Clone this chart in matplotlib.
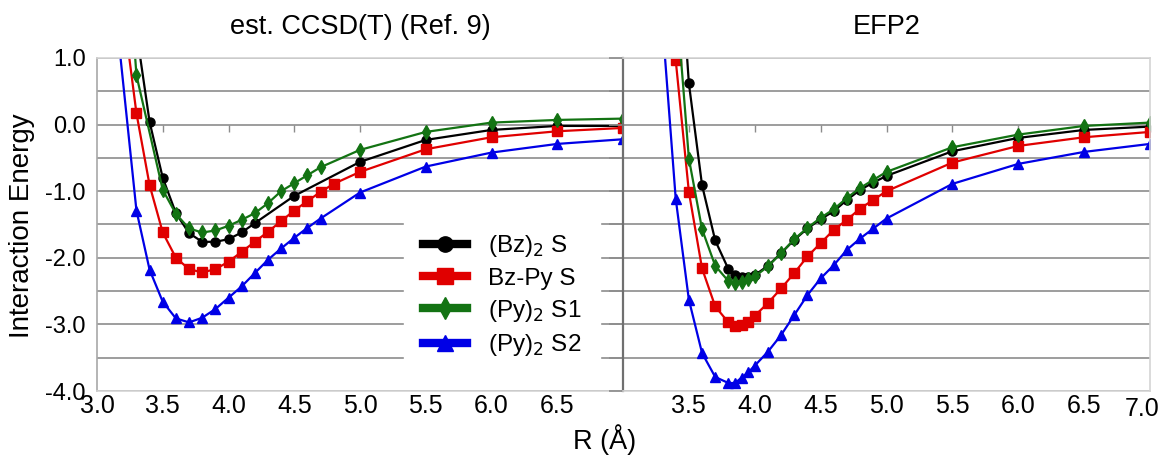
import matplotlib
matplotlib.use("Agg")
import matplotlib.pyplot as plt
from matplotlib.lines import Line2D
import numpy as np

plt.rcParams['font.family'] = ['Liberation Sans', 'DejaVu Sans']

# ---- est. CCSD(T) panel (values above 1.0 are off-scale, only set the line slope)
ccsd_bz2_x = [3.3, 3.4, 3.5, 3.6, 3.7, 3.8, 3.9, 4.0, 4.1, 4.2, 4.5, 5.0, 5.5, 6.0, 6.5, 7.0]
ccsd_bz2_y = [1.4, 0.04, -0.80, -1.33, -1.63, -1.76, -1.76, -1.72, -1.62, -1.48, -1.07, -0.56, -0.23, -0.08, -0.02, -0.02]

ccsd_bzpy_x = [3.2, 3.3, 3.4, 3.5, 3.6, 3.7, 3.8, 3.9, 4.0, 4.1, 4.2, 4.3, 4.4, 4.5, 4.6, 4.7, 4.8, 5.0, 5.5, 6.0, 6.5, 7.0]
ccsd_bzpy_y = [1.7, 0.17, -0.91, -1.62, -2.00, -2.17, -2.22, -2.17, -2.06, -1.91, -1.76, -1.61, -1.45, -1.29, -1.15, -1.01, -0.89, -0.71, -0.37, -0.19, -0.10, -0.05]

ccsd_py2s1_x = [3.2, 3.3, 3.5, 3.6, 3.7, 3.8, 3.9, 4.0, 4.1, 4.2, 4.3, 4.4, 4.5, 4.6, 4.7, 5.0, 5.5, 6.0, 6.5, 7.0]
ccsd_py2s1_y = [3.5, 0.74, -0.98, -1.34, -1.56, -1.62, -1.59, -1.52, -1.43, -1.33, -1.18, -1.00, -0.88, -0.76, -0.64, -0.38, -0.11, 0.03, 0.07, 0.09]

ccsd_py2s2_x = [3.1, 3.3, 3.4, 3.5, 3.6, 3.7, 3.8, 3.9, 4.0, 4.1, 4.2, 4.3, 4.4, 4.5, 4.6, 4.7, 5.0, 5.5, 6.0, 6.5, 7.0]
ccsd_py2s2_y = [2.5, -1.29, -2.18, -2.66, -2.91, -2.97, -2.90, -2.77, -2.60, -2.43, -2.23, -2.03, -1.86, -1.70, -1.55, -1.41, -1.02, -0.63, -0.42, -0.29, -0.22]

# ---- EFP2 panel
efp_x = [3.4, 3.5, 3.6, 3.7, 3.8, 3.85, 3.9, 3.95, 4.0, 4.1, 4.2, 4.3, 4.4, 4.5, 4.6, 4.7, 4.8, 4.9, 5.0, 5.5, 6.0, 6.5, 7.0]
efp_x_s2 = [3.3] + efp_x
efp_x_bzpy = [3.3] + efp_x
efp_bz2_y = [3.5, 0.62, -0.91, -1.74, -2.17, -2.26, -2.29, -2.29, -2.26, -2.12, -1.93, -1.73, -1.56, -1.42, -1.30, -1.13, -0.98, -0.87, -0.77, -0.40, -0.20, -0.08, -0.03]
efp_bzpy_y = [3.0, 0.97, -1.01, -2.16, -2.73, -2.97, -3.02, -3.01, -2.96, -2.87, -2.68, -2.46, -2.23, -1.98, -1.78, -1.58, -1.43, -1.26, -1.13, -1.00, -0.57, -0.32, -0.19, -0.11]
efp_py2s1_y = [2.0, -0.51, -1.57, -2.12, -2.35, -2.38, -2.36, -2.32, -2.28, -2.13, -1.93, -1.72, -1.55, -1.40, -1.27, -1.10, -0.95, -0.83, -0.71, -0.34, -0.15, -0.02, 0.03]
efp_py2s2_y = [1.5, -1.11, -2.63, -3.43, -3.79, -3.88, -3.88, -3.80, -3.72, -3.62, -3.41, -3.16, -2.86, -2.56, -2.31, -2.11, -1.88, -1.71, -1.56, -1.41, -0.89, -0.59, -0.41, -0.29]

labels = ['(Bz)$_2$ S', 'Bz-Py S', '(Py)$_2$ S1', '(Py)$_2$ S2']
colors = ['#000000', '#e00000', '#137313', '#0000e6']
markers = ['o', 's', 'd', '^']
msizes = [6.5, 7, 7, 7]

xticks = [3.0, 3.5, 4.0, 4.5, 5.0, 5.5, 6.0, 6.5, 7.0]
left_xlabels = ['3.0', '3.5', '4.0', '4.5', '5.0', '5.5', '6.0', '6.5', '']
right_xlabels = ['', '3.5', '4.0', '4.5', '5.0', '5.5', '6.0', '6.5', '']
yticks = [1.0, 0.0, -1.0, -2.0, -3.0, -4.0]
ytick_labels = ['1.0', '0.0', '-1.0', '-2.0', '-3.0', '-4.0']
yminor = [0.5, -0.5, -1.5, -2.5, -3.5]

fig = plt.figure(figsize=(11.62, 4.61), dpi=100)
axL = fig.add_axes([97 / 1162, 1 - 391 / 461, 526 / 1162, 333 / 461])
axR = fig.add_axes([623 / 1162, 1 - 391 / 461, 527 / 1162, 333 / 461])

left_series = [(ccsd_bz2_x, ccsd_bz2_y), (ccsd_bzpy_x, ccsd_bzpy_y),
               (ccsd_py2s1_x, ccsd_py2s1_y), (ccsd_py2s2_x, ccsd_py2s2_y)]
right_series = [(efp_x, efp_bz2_y), (efp_x_bzpy, efp_bzpy_y),
                (efp_x, efp_py2s1_y), (efp_x_s2, efp_py2s2_y)]

for ax, series, xlabs in [(axL, left_series, left_xlabels), (axR, right_series, right_xlabels)]:
    for (xs, ys), c, m, ms in zip(series, colors, markers, msizes):
        ax.plot(xs, ys, color=c, lw=1.6, marker=m, ms=ms, mec=c, mfc=c)
    ax.set_xlim(3.0, 7.0)
    ax.set_ylim(-4.0, 1.0)
    ax.set_yticks(yticks)
    ax.set_yticks(yminor, minor=True)
    ax.grid(True, which='both', axis='y', color='#8c8c8c', lw=1.2)
    ax.set_axisbelow(True)
    ax.set_xticks(xticks)
    ax.set_xticklabels(xlabs, fontsize=18)
    ax.tick_params(axis='x', length=0, pad=2)
    for s in ['top', 'right', 'bottom']:
        ax.spines[s].set_color('#d4d4d4')
        ax.spines[s].set_linewidth(1.2)
    # small tick marks on the zero line
    sec = ax.secondary_xaxis(0.8)
    sec.set_xticks(xticks[1:])
    sec.tick_params(axis='x', direction='in', length=5, width=1, color='#8c8c8c',
                    labeltop=False, labelbottom=False)
    sec.spines['top'].set_visible(False)
    sec.spines['bottom'].set_visible(False)

# last label of the right panel sits against the image edge
axR.annotate('7.0', xy=(xticks[-1], 0), xycoords=('data', 'axes fraction'),
             xytext=(-6, -4), textcoords='offset points', ha='center', va='top', fontsize=18)

axL.set_yticklabels(ytick_labels, fontsize=17)
axL.tick_params(axis='y', which='both', length=0, pad=8)
axL.spines['left'].set_color('#a8a8a8')
axL.spines['left'].set_linewidth(1.2)

axR.set_yticklabels([])
axR.tick_params(axis='y', which='both', direction='out', length=10, width=1.2, color='#8c8c8c')
axR.spines['left'].set_color('#707070')
axR.spines['left'].set_linewidth(1.6)

axL.set_title('est. CCSD(T) (Ref. 9)', fontsize=19.5, pad=17)
axR.set_title('EFP2', fontsize=19.5, pad=17)

fig.text(605 / 1162, 1 - 440 / 461, 'R (Å)', fontsize=19.5, ha='center', va='center')
fig.text(22 / 1162, 1 - 226 / 461, 'Interaction Energy', fontsize=20, rotation=90,
         ha='center', va='center')

handles = [Line2D([], [], color=c, lw=6, marker=m, ms=11, mec=c, mfc=c)
           for c, m in zip(colors, markers)]
leg = axL.legend(handles, labels, loc='upper left', bbox_to_anchor=(0.56, 0.568),
                 fontsize=17.5, frameon=True, fancybox=False, handlelength=1.8,
                 labelspacing=0.34, borderpad=0.8, handletextpad=0.85)
leg.get_frame().set_edgecolor('white')
leg.get_frame().set_facecolor('white')
leg.get_frame().set_alpha(1.0)

fig.savefig('out.png', dpi=100)
